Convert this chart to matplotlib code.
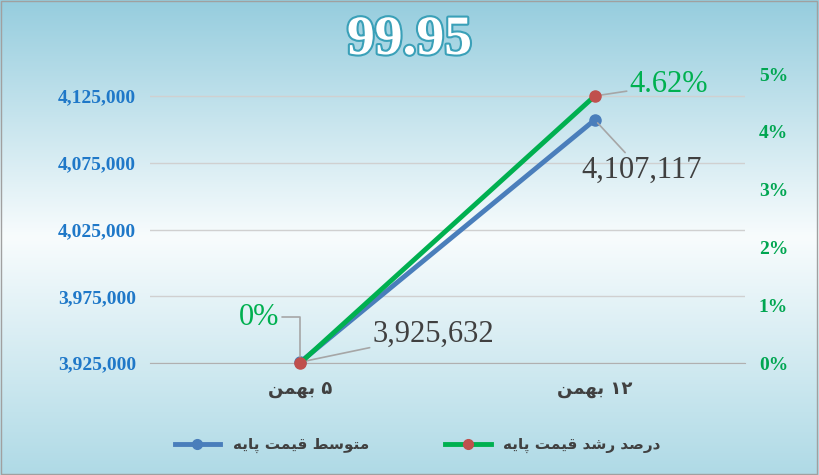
import numpy as np
import matplotlib
matplotlib.use("Agg")
import matplotlib.pyplot as plt
import matplotlib.patheffects as pe
from matplotlib.lines import Line2D

# visual-order presentation forms (hand shaped Persian)
bahman = "\uFEE6\uFEE4\uFEEC\uFE91"
categories = [bahman + " \u06F5", bahman + " \u06F1\u06F2"]
avg_price = [3925632, 4107117]
growth_pct = [0.0, 4.62]
left_ticks = [3925000, 3975000, 4025000, 4075000, 4125000]
right_ticks = [0, 1, 2, 3, 4, 5]
payeh = "\uFEEA\uFBFE\uFE8E\uFB58"
gheimat = "\uFE96\uFEE4\uFBFF\uFED7"
motevaset = "\uFEC2\uFEB3\uFEEE\uFE98\uFEE3"
roshd = "\uFEAA\uFEB7\uFEAD"
darsad = "\uFEAA\uFEBB\uFEAD\uFEA9"
series_names = [payeh + " " + gheimat + " " + motevaset,
                payeh + " " + gheimat + " " + roshd + " " + darsad]
title = "99.95"

W, H = 819, 475
fig = plt.figure(figsize=(W/100, H/100), dpi=100)
bg = fig.add_axes([0, 0, 1, 1])
g = np.linspace(0, 1, 256)
blue_c = np.array([150, 205, 222]) / 255
white = np.array([248, 252, 253]) / 255
bot_c = np.array([175, 218, 230]) / 255
img = np.zeros((256, 3))
for i, v in enumerate(g):
    if v < 0.5:
        t = v / 0.5
        img[i] = blue_c * (1 - t) + white * t
    else:
        t = (v - 0.5) / 0.5
        img[i] = white * (1 - t) + bot_c * t
img = img[:, None, :].repeat(2, axis=1)
bg.imshow(img, aspect="auto", extent=[0, 1, 0, 1])
bg.set_axis_off()
bg.add_patch(plt.Rectangle((0.001, 0.002), 0.997, 0.995, fill=False, ec="#a0a0a0", lw=1))

ax = fig.add_axes([150/W, 1-363/H, (745-150)/W, (363-60)/H])
ax.patch.set_alpha(0)
x = np.arange(len(categories))
ax.set_xlim(-0.51, 1.51)
ax.set_ylim(3925000, 3925000 + 303/267*200000)
ax.set_yticks(left_ticks)
ax.set_yticklabels([f"{v:,}" for v in left_ticks])
ax.grid(axis="y", color="#d0d0d0", lw=1)
ax.set_axisbelow(True)
for s in ["top", "right", "left"]:
    ax.spines[s].set_visible(False)
ax.spines["bottom"].set_color("#b0b0b0")
ax.tick_params(axis="y", length=0, colors="#1f78c8", labelsize=14, pad=10)
ax.tick_params(axis="x", length=0, pad=12, labelsize=13)
for lab in ax.get_yticklabels():
    lab.set_fontfamily("Liberation Serif"); lab.set_fontweight("bold")
ax.set_xticks(x)
ax.set_xticklabels(categories, fontfamily="DejaVu Sans", fontweight="bold", color="#404040")

ax2 = ax.twinx()
ax2.set_ylim(0, 303/57.8)
ax2.set_yticks(right_ticks)
ax2.set_yticklabels([f"{v}%" for v in right_ticks])
for s in ax2.spines.values():
    s.set_visible(False)
ax2.tick_params(axis="y", length=0, colors="#00a651", labelsize=14, pad=10)
for lab in ax2.get_yticklabels():
    lab.set_fontfamily("Liberation Serif"); lab.set_fontweight("bold")

blue, green, red = "#4a7ebb", "#00b050", "#c0504d"
ax.plot(x, avg_price, color=blue, lw=3.5, marker="o", ms=8, mfc=blue, mec=blue, zorder=3, clip_on=False)
ax2.plot(x, growth_pct, color=green, lw=3.5, marker="o", ms=8, mfc=red, mec=red, zorder=4, clip_on=False)

gray = "#a6a6a6"
ax.annotate(f"{avg_price[0]:,}", (x[0], avg_price[0]), xytext=(52, 20), textcoords="offset points",
            fontsize=22, fontfamily="Liberation Serif", color="#404040", va="center",
            arrowprops=dict(arrowstyle="-", color=gray, lw=1.2, shrinkA=0, shrinkB=3))
ax.annotate(f"{avg_price[1]:,}", (x[1], avg_price[1]), xytext=(-10, -36), textcoords="offset points",
            fontsize=22, fontfamily="Liberation Serif", color="#404040", va="center", ha="left",
            arrowprops=dict(arrowstyle="-", color=gray, lw=1.2, shrinkA=0, shrinkB=3))
ax2.annotate(f"{growth_pct[0]:g}%", (x[0], growth_pct[0]), xytext=(-15, 33), textcoords="offset points",
             fontsize=22, fontfamily="Liberation Serif", color=green, va="center", ha="right",
             arrowprops=dict(arrowstyle="-", color=gray, lw=1.2, shrinkA=0, shrinkB=3,
                             connectionstyle="angle,angleA=0,angleB=90"))
ax2.annotate(f"{growth_pct[1]:.2f}%", (x[1], growth_pct[1]), xytext=(25, 8), textcoords="offset points",
             fontsize=22, fontfamily="Liberation Serif", color=green, va="center", ha="left",
             arrowprops=dict(arrowstyle="-", color=gray, lw=1.2, shrinkA=0, shrinkB=3))

fig.text(0.5, 1-40/H, title, ha="center", va="center", fontsize=40, fontweight="bold",
         fontfamily="Liberation Serif", color="white",
         path_effects=[pe.withStroke(linewidth=3, foreground="#3aa0b8")])

handles = [Line2D([], [], color=blue, lw=3.5, marker="o", ms=7, mfc=blue, mec=blue),
           Line2D([], [], color=green, lw=3.5, marker="o", ms=7, mfc=red, mec=red)]
leg = fig.legend(handles, series_names, loc="center", bbox_to_anchor=(0.51, 1-445/H), ncol=2,
                 frameon=False, prop={"family": "DejaVu Sans", "weight": "bold", "size": 11},
                 columnspacing=5, handlelength=3)
for txt in leg.get_texts():
    txt.set_color("#404040")

fig.savefig("out.png", dpi=100)
